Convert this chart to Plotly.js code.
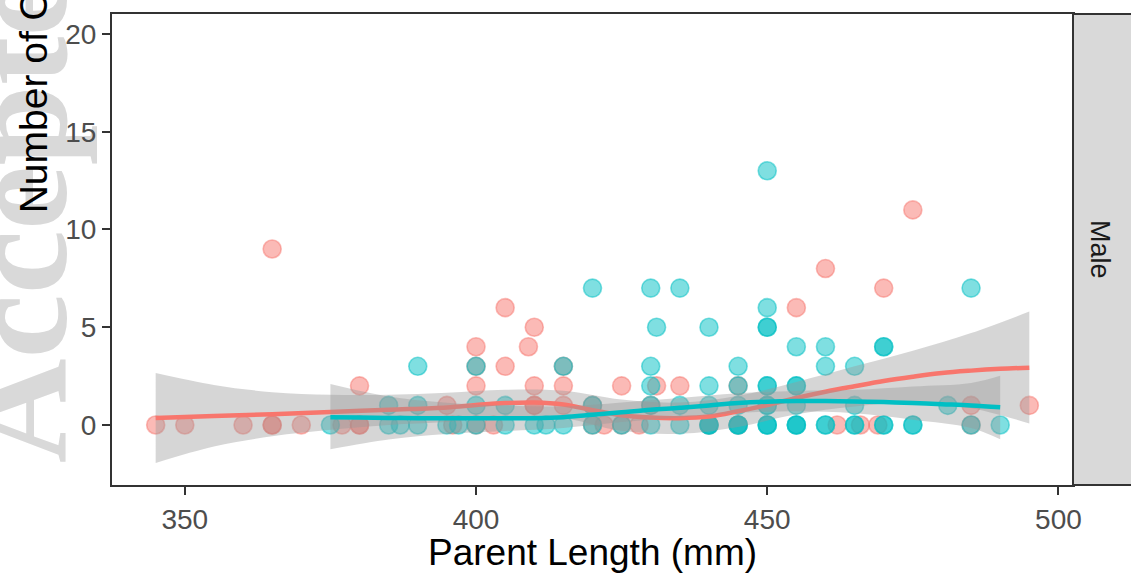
<!DOCTYPE html>
<html><head><meta charset="utf-8">
<script src="https://cdn.plot.ly/plotly-3.0.1.min.js"></script>
<style>html,body{margin:0;padding:0;background:#fff;}
#wrap{position:relative;width:1131px;height:577px;}
#bg,#chart{position:absolute;left:0;top:0;width:1131px;height:577px;}</style>
</head><body><div id="wrap"><div id="bg"></div><div id="chart"></div></div>
<script>
// ---- data ----
const groupAX = [345,350,360,365,365,370,377,380,380,396,400,403,420,422,425,428,440,445,462,466,469,485,
                 395,410,410,415,420,430,485,495,
                 380,400,410,415,425,431,435,445,
                 400,405,415,
                 400,409,
                 410,
                 405,455,
                 470,
                 460,
                 365,
                 475];
const groupAY = [0,0,0,0,0,0,0,0,0,0,0,0,0,0,0,0,0,0,0,0,0,0,
                 1,1,1,1,1,1,1,1,
                 2,2,2,2,2,2,2,2,
                 3,3,3,
                 4,4,
                 5,
                 6,6,
                 7,
                 8,
                 9,
                 11];
const groupBX = [375,385,387,390,395,397,400,405,410,412,415,420,425,430,435,440,440,440,445,445,445,450,450,450,455,455,455,460,460,465,465,470,470,475,475,485,490,
                 385,390,400,405,420,430,435,440,445,450,450,455,465,481,
                 430,440,445,450,450,455,455,
                 390,400,415,430,445,460,465,
                 455,460,470,470,
                 431,440,450,450,
                 450,
                 420,430,435,485,
                 450];
const groupBY = [0,0,0,0,0,0,0,0,0,0,0,0,0,0,0,0,0,0,0,0,0,0,0,0,0,0,0,0,0,0,0,0,0,0,0,0,0,
                 1,1,1,1,1,1,1,1,1,1,1,1,1,1,
                 2,2,2,2,2,2,2,
                 3,3,3,3,3,3,3,
                 4,4,4,4,
                 5,5,5,5,
                 6,
                 7,7,7,7,
                 13];

// smooth fits
const smoothAX = [345,355,365,375,385,395,400,405,410,415,420,425,430,435,440,445,450,455,460,465,470,475,480,485,490,495];
const smoothAY = [0.36,0.46,0.55,0.66,0.78,0.9,1.02,1.12,1.15,1.05,0.76,0.5,0.38,0.35,0.43,0.7,1.02,1.38,1.7,1.98,2.25,2.47,2.66,2.78,2.87,2.93];
const bandAX    = [345,355,365,375,385,395,405,415,425,435,445,455,465,475,485,495];
const bandAUp   = [2.66,2.05,1.68,1.55,1.55,1.65,1.8,1.75,1.3,1.15,1.5,2.2,3.0,3.8,4.7,5.8];
const bandALow  = [-1.94,-1.1,-0.58,-0.25,0.0,0.15,0.42,0.35,-0.3,-0.45,-0.1,0.55,0.95,1.15,0.86,0.08];

const smoothBX = [375,380,385,390,395,400,405,410,415,420,425,430,435,440,445,450,455,460,465,470,475,480,485,490];
const smoothBY = [0.4,0.38,0.36,0.35,0.34,0.34,0.34,0.35,0.4,0.52,0.65,0.78,0.88,1.0,1.12,1.19,1.22,1.22,1.2,1.17,1.12,1.06,1.0,0.91];
const bandBX    = [375,385,395,405,415,425,435,445,455,465,475,485,490];
const bandBUp   = [2.1,1.46,1.14,0.99,0.95,1.15,1.38,1.62,1.74,1.8,1.97,2.15,2.52];
const bandBLow  = [-1.24,-0.74,-0.46,-0.31,-0.15,0.15,0.38,0.62,0.7,0.6,0.27,-0.15,-0.73];

const xTicks = [350,400,450,500];
const yTicks = [0,5,10,15,20];

const colA = '248,118,109', colB = '0,191,196';
const band = 'rgba(153,153,153,0.4)';

function pts(x, y, c) {
  return {x:x, y:y, type:'scatter', mode:'markers', hoverinfo:'skip',
    marker:{size:18, color:'rgba('+c+',0.5)', line:{color:'rgba('+c+',0.5)', width:1.6}}};
}
function lowT(x, y) { return {x:x, y:y, type:'scatter', mode:'lines', line:{width:0, shape:'spline'}, hoverinfo:'skip'}; }
function upT(x, y) { return {x:x, y:y, type:'scatter', mode:'lines', fill:'tonexty', fillcolor:band, line:{width:0, shape:'spline'}, hoverinfo:'skip'}; }
function lineT(x, y, c) { return {x:x, y:y, type:'scatter', mode:'lines', line:{width:4.5, color:'rgb('+c+')', shape:'spline'}, hoverinfo:'skip'}; }

const data = [
  pts(groupAX, groupAY, colA),
  pts(groupBX, groupBY, colB),
  lowT(bandAX, bandALow), upT(bandAX, bandAUp), lineT(smoothAX, smoothAY, colA),
  lowT(bandBX, bandBLow), upT(bandBX, bandBUp), lineT(smoothBX, smoothBY, colB)
];

const margin = {l:112, r:58, t:14, b:92, pad:0};

// background layer: the "Accepted" watermark, drawn underneath the chart
Plotly.newPlot('bg', [], {
  width:1131, height:577, showlegend:false, paper_bgcolor:'#fff', plot_bgcolor:'#fff', margin:margin,
  xaxis:{visible:false}, yaxis:{visible:false},
  annotations:[{text:'Accepted', xref:'paper', yref:'paper', x:-0.0985, y:0.0425, xanchor:'center', yanchor:'bottom',
    textangle:-90, showarrow:false,
    font:{family:'Liberation Serif, Times New Roman, serif', size:145, color:'#d9d9d9', weight:'bold'}}]
}, {staticPlot:true, displayModeBar:false});

const tickFont = {family:'Liberation Sans, Arial, sans-serif', size:28, color:'#4d4d4d'};
const layout = {
  width:1131, height:577, showlegend:false,
  paper_bgcolor:'rgba(0,0,0,0)', plot_bgcolor:'#fff',
  margin:margin,
  xaxis:{range:[337.5,502.5], tickvals:xTicks, ticktext:xTicks.map(String), showgrid:false, zeroline:false,
    ticks:'outside', ticklen:8, tickwidth:2, tickcolor:'#333', tickfont:tickFont,
    showline:true, linecolor:'#333', linewidth:2, mirror:true},
  yaxis:{range:[-3.07,21.02], tickvals:yTicks, ticktext:yTicks.map(String), showgrid:false, zeroline:false,
    ticks:'outside', ticklen:8, tickwidth:2, tickcolor:'#333', tickfont:tickFont,
    showline:true, linecolor:'#333', linewidth:2, mirror:true},
  shapes:[
    {type:'rect', xref:'paper', yref:'paper', x0:1, x1:1.12, y0:0, y1:1,
     fillcolor:'#d9d9d9', line:{color:'#333', width:2}}
  ],
  annotations:[
    {text:'Number of Offspring', xref:'paper', yref:'paper', x:-0.082, y:0.573, xanchor:'center', yanchor:'bottom',
     textangle:-90, showarrow:false, font:{family:'Liberation Sans, Arial, sans-serif', size:39, color:'#000'}},
    {text:'Parent Length (mm)', xref:'paper', yref:'paper', x:0.5, y:-0.144, xanchor:'center', yanchor:'middle',
     showarrow:false, font:{family:'Liberation Sans, Arial, sans-serif', size:37, color:'#000'}},
    {text:'Male', xref:'paper', yref:'paper', x:1.028, y:0.499, xanchor:'center', yanchor:'middle',
     textangle:90, showarrow:false, font:{family:'Liberation Sans, Arial, sans-serif', size:27, color:'#1a1a1a'}}
  ]
};
Plotly.newPlot('chart', data, layout, {staticPlot:true, displayModeBar:false});
</script></body></html>
